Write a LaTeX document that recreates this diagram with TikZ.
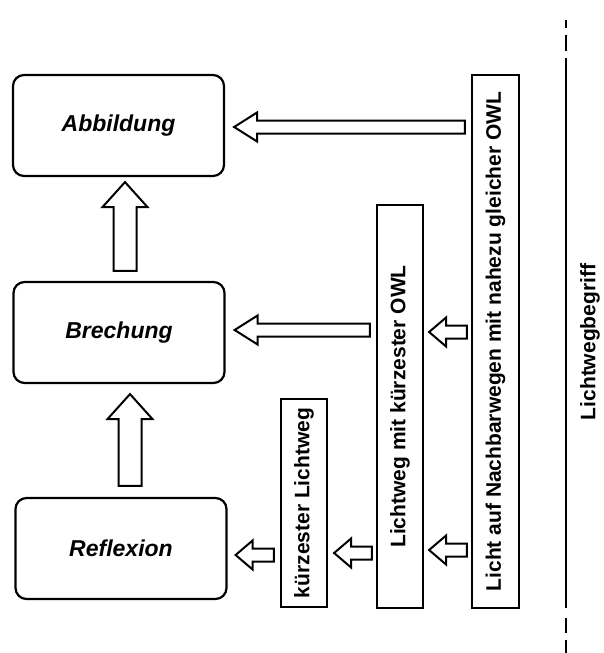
\documentclass[tikz,border=0pt]{standalone}
\usepackage{fontspec}
\setmainfont{Liberation Sans}
\usetikzlibrary{calc}
% horizontal block arrow: #1 tail, #2 tip, #3 shaft half, #4 head half, #5 head length
\newcommand\hblockarrow[5]{\draw[barrow] (#2) -- ($(#2)+(#5,-#4)$) -- ($(#2)+(#5,-#3)$) -- ($(#1)+(0,-#3)$) -- ($(#1)+(0,#3)$) -- ($(#2)+(#5,#3)$) -- ($(#2)+(#5,#4)$) -- cycle;}
% vertical block arrow pointing up
\newcommand\vblockarrow[5]{\draw[barrow] (#2) -- ($(#2)+(#4,#5)$) -- ($(#2)+(#3,#5)$) -- ($(#1)+(#3,0)$) -- ($(#1)+(-#3,0)$) -- ($(#2)+(-#3,#5)$) -- ($(#2)+(-#4,#5)$) -- cycle;}
\begin{document}
\begin{tikzpicture}[x=1pt,y=-1pt,
  box/.style={draw,line width=2.2pt,rounded corners=11pt,minimum width=211pt,minimum height=101pt,inner sep=0pt,font=\fontsize{23}{26}\selectfont\bfseries\itshape},
  vbox/.style={draw,line width=2.2pt,rotate=90,inner sep=0pt,font=\fontsize{21}{24}\selectfont\bfseries},
  barrow/.style={draw,line width=2pt,fill=white,line join=miter},
  vline/.style={line width=2pt}]
\useasboundingbox[fill=white] (0,0) rectangle (604,653);
% main boxes
\node[box] (abb) at (118.5,125.5) {Abbildung};
\node[box] (bre) at (119,332.5) {Brechung};
\node[box] (ref) at (121,548.5) {Reflexion};
% vertical boxes
\node[vbox,minimum width=533pt,minimum height=47pt] (tall) at (495.5,341.5) {Licht auf Nachbarwegen mit nahezu gleicher OWL};
\node[vbox,minimum width=403pt,minimum height=46pt] (mid) at (400,406.5) {Lichtweg mit kürzester OWL};
\node[vbox,minimum width=208pt,minimum height=46pt] (short) at (304,503) {kürzester Lichtweg};
% arrow end coordinates
\coordinate (a1tail) at ([xshift=-6pt]tall.north |- 0,127);
\coordinate (a1tip)  at ([xshift=9pt]abb.east |- 0,127);
\coordinate (a2tail) at ([xshift=-6pt]mid.north |- 0,330);
\coordinate (a2tip)  at ([xshift=9pt]bre.east |- 0,330);
\coordinate (s1tail) at ([xshift=-4pt]tall.north |- 0,332);
\coordinate (s1tip)  at ([xshift=5pt]mid.south |- 0,332);
\coordinate (s2tail) at ([xshift=-4pt]tall.north |- 0,550);
\coordinate (s2tip)  at ([xshift=5pt]mid.south |- 0,550);
\coordinate (s3tail) at ([xshift=-4pt]mid.north |- 0,553);
\coordinate (s3tip)  at ([xshift=6pt]short.south |- 0,553);
\coordinate (s4tail) at ([xshift=-6pt]short.north |- 0,555);
\coordinate (s4tip)  at ([xshift=8pt]ref.east |- 0,555);
\coordinate (v1tail) at ([yshift=10pt]bre.north -| 125,0);
\coordinate (v1tip)  at ([yshift=-5pt]abb.south -| 125,0);
\coordinate (v2tail) at ([yshift=11pt]ref.north -| 130,0);
\coordinate (v2tip)  at ([yshift=-10pt]bre.south -| 130,0);
% block arrows
\hblockarrow{a1tail}{a1tip}{6.5}{14.5}{23}
\hblockarrow{a2tail}{a2tip}{6.5}{14.5}{23}
\hblockarrow{s1tail}{s1tip}{6.5}{14.5}{17}
\hblockarrow{s2tail}{s2tip}{6.5}{14.5}{17}
\hblockarrow{s3tail}{s3tip}{6.5}{14.5}{17}
\hblockarrow{s4tail}{s4tip}{6.5}{14.5}{17}
\vblockarrow{v1tail}{v1tip}{11.5}{22.5}{25}
\vblockarrow{v2tail}{v2tip}{11.5}{22.5}{25}
% concept line
\coordinate (l0) at (566,20);
\coordinate (l1) at (566,28);
\coordinate (l2) at (566,35);
\coordinate (l3) at (566,51);
\coordinate (l4) at (566,58);
\coordinate (l5) at (566,608);
\coordinate (l6) at (566,618);
\coordinate (l7) at (566,633);
\coordinate (l8) at (566,640);
\coordinate (l9) at (566,653);
\draw[vline] (l0) -- (l1) (l2) -- (l3) (l4) -- (l5) (l6) -- (l7) (l8) -- (l9);
\node[rotate=90,inner sep=0pt,font=\fontsize{21}{24}\selectfont\bfseries] (lwb) at (590,342) {Lichtwegbegriff};
\end{tikzpicture}
\end{document}
